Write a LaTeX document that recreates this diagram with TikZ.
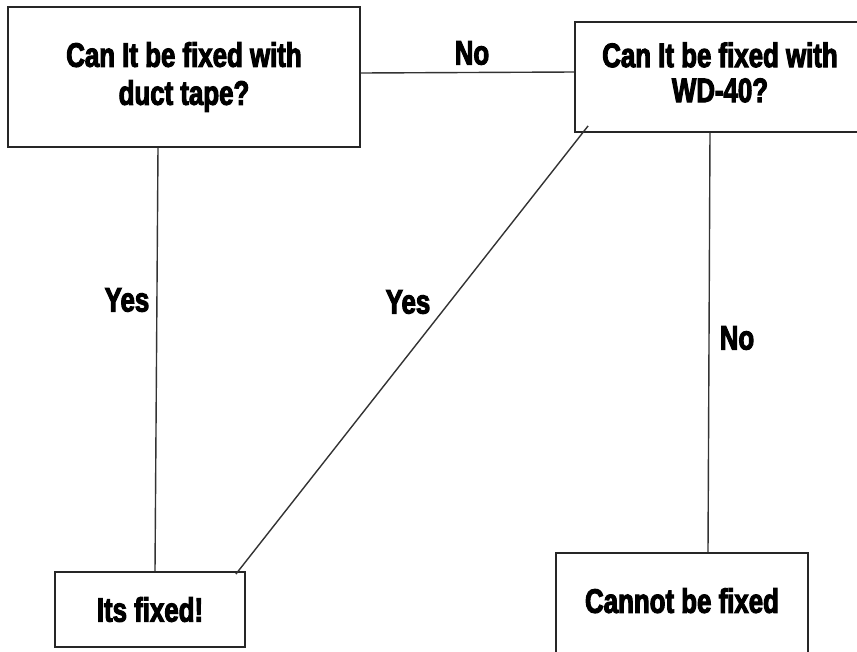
\documentclass[tikz,border=0pt]{standalone}
\usepackage{fontspec}
\newfontfamily\impactish{Liberation Sans}[FakeStretch=0.76,FakeBold=3]

\tikzset{
    box/.style={draw=black!85, line width=1.8pt, rectangle, fill=white, align=center,
        font=\impactish\bfseries\fontsize{34}{38}\selectfont},
    answer/.style={font=\impactish\bfseries\fontsize{34}{38}\selectfont},
    link/.style={draw=black!80, line width=1.4pt}
}

\begin{document}
\begin{tikzpicture}[x=1pt, y=-1pt]
    \useasboundingbox (0,0) rectangle (857,651);
    \clip (0,0) rectangle (857,651);

    \node[box, minimum width=352pt, minimum height=140pt] (tape) at (184,77) {Can It be fixed with\\duct tape?};
    \node[box, minimum width=290pt, minimum height=110pt] (wd) at (720,77)
        {\raisebox{12pt}{\begin{tabular}{@{}c@{}}Can It be fixed with\\[-3pt]WD-40?\end{tabular}}};

    \node[box, minimum width=190pt, minimum height=75pt] (fixed) at (150,609.5) {Its fixed!};
    \node[box, minimum width=252pt, minimum height=109pt] (nofix) at (682,607.5) {\raisebox{14pt}{Cannot be fixed}};

    \draw[link] ([yshift=4pt]tape.east) -- ([yshift=5pt]wd.west);
    \draw[link] ([xshift=-26pt]tape.south) -- ([xshift=5pt]fixed.north);
    \draw[link] ([shift={(14pt,7pt)}]wd.south west) -- ([shift={(-10pt,-3pt)}]fixed.north east);
    \draw[link] ([xshift=-10pt]wd.south) -- ([xshift=26pt]nofix.north);

    \node[answer] (no1) at (472,53) {No};
    \node[answer] (yes1) at (127,300) {Yes};
    \node[answer] (yes2) at (408,302) {Yes};
    \node[answer] (no2) at (737,338) {No};
\end{tikzpicture}
\end{document}
